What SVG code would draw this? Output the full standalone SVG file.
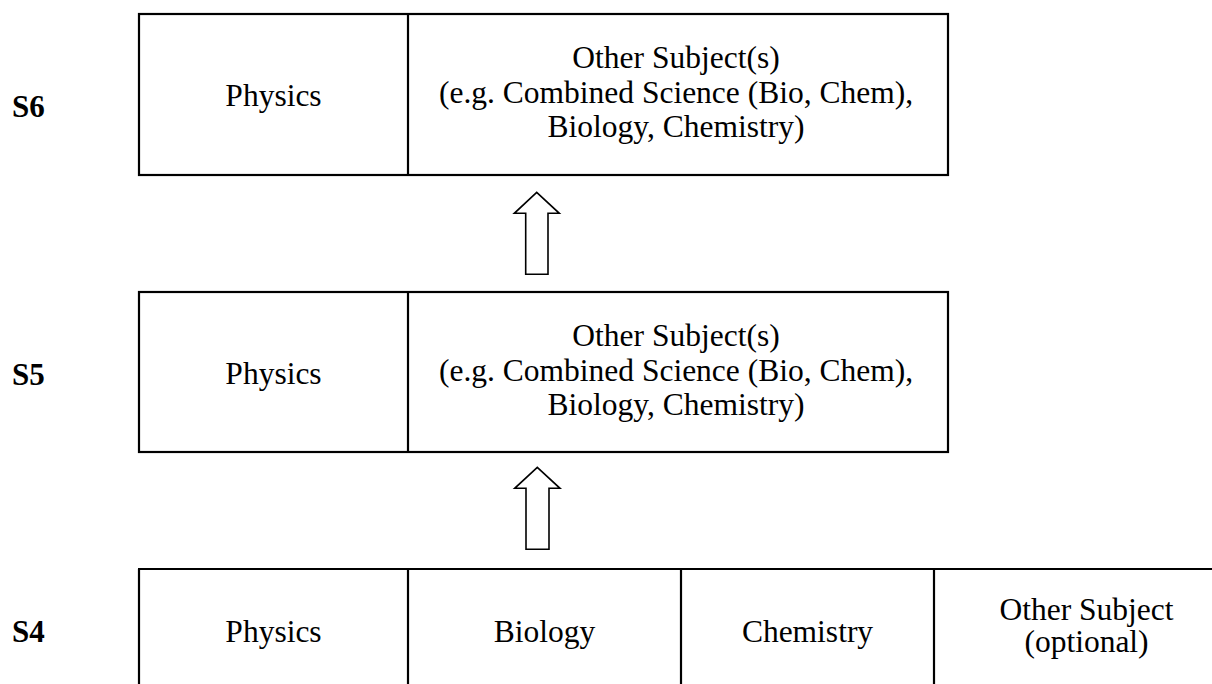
<svg xmlns="http://www.w3.org/2000/svg" width="1212" height="684" viewBox="0 0 1212 684">
<style>
.box{fill:none;stroke:#000;stroke-width:2.2}
.arrow{fill:#fff;stroke:#000;stroke-width:1.6;stroke-linejoin:miter}
.t{font-family:"Liberation Serif","Times New Roman",serif;font-size:31.5px;fill:#000;text-anchor:middle}
.lbl{font-family:"Liberation Serif","Times New Roman",serif;font-size:31px;font-weight:bold;fill:#000}
</style>
<rect width="1212" height="684" fill="#fff"/>
<g id="labels">
<text class="lbl" x="12" y="117">S6</text>
<text class="lbl" x="12" y="385">S5</text>
<text class="lbl" x="12" y="642">S4</text>
</g>
<g id="s6">
<rect class="box" x="139" y="14" width="809" height="161"/>
<line class="box" x1="408" y1="14" x2="408" y2="175"/>
<text class="t" x="273.5" y="106">Physics</text>
<text class="t" x="676" y="68">Other Subject(s)</text>
<text class="t" x="676" y="102.5">(e.g. Combined Science (Bio, Chem),</text>
<text class="t" x="676" y="136.5">Biology, Chemistry)</text>
</g>
<g id="s5">
<rect class="box" x="139" y="292" width="809" height="160"/>
<line class="box" x1="408" y1="292" x2="408" y2="452"/>
<text class="t" x="273.5" y="384">Physics</text>
<text class="t" x="676" y="346">Other Subject(s)</text>
<text class="t" x="676" y="380.5">(e.g. Combined Science (Bio, Chem),</text>
<text class="t" x="676" y="414.5">Biology, Chemistry)</text>
</g>
<g id="s4">
<line class="box" x1="138" y1="569" x2="1212" y2="569"/>
<line class="box" x1="139" y1="569" x2="139" y2="684"/>
<line class="box" x1="408" y1="569" x2="408" y2="684"/>
<line class="box" x1="681" y1="569" x2="681" y2="684"/>
<line class="box" x1="934" y1="569" x2="934" y2="684"/>
<text class="t" x="273.5" y="642">Physics</text>
<text class="t" x="544.5" y="642">Biology</text>
<text class="t" x="807.5" y="642">Chemistry</text>
<text class="t" x="1086.5" y="619.5">Other Subject</text>
<text class="t" x="1086.5" y="652">(optional)</text>
</g>
<g id="connectors">
<polygon class="arrow" points="536.7,192.3 559.3,213.3 548,213.3 548,274.3 525.7,274.3 525.7,213.3 514.3,213.3"/>
<polygon class="arrow" points="537.3,467.3 560,488.3 549,488.3 549,549.3 526,549.3 526,488.3 514.7,488.3"/>
</g>
</svg>
